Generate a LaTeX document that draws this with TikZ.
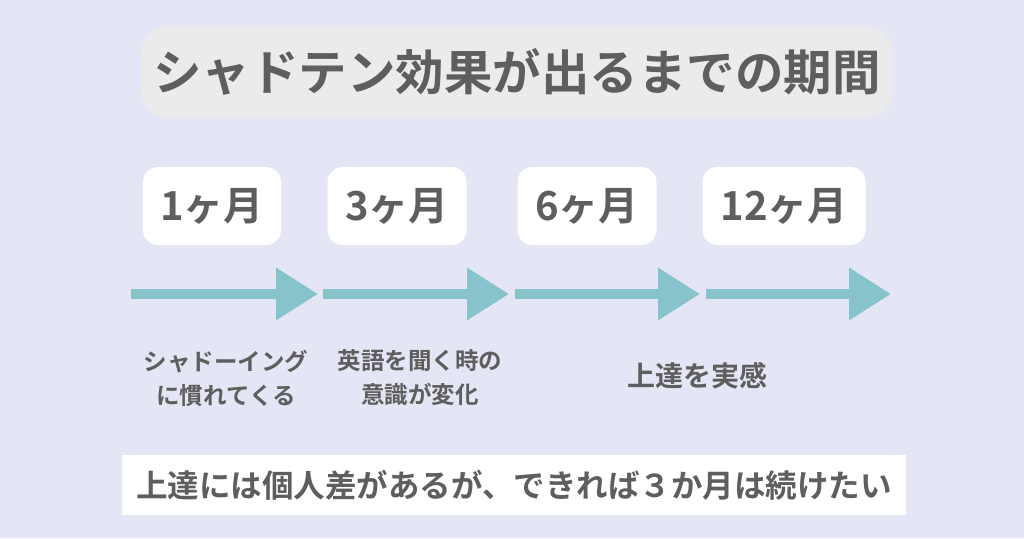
\documentclass[tikz,border=0pt]{standalone}
\usepackage{fontspec}
\setmainfont{Noto Sans CJK JP}[BoldFont={Noto Sans CJK JP Bold}]
\usetikzlibrary{arrows.meta}

\begin{document}
\begin{tikzpicture}[x=1pt,y=-1pt,
  month/.style={fill=white, rounded corners=15pt, minimum height=78pt,
    font=\fontsize{40}{40}\selectfont\bfseries, text=textgray},
  note/.style={align=center, font=\fontsize{23.5}{34}\selectfont\bfseries, text=textgray},
  flow/.style={draw=teal, line width=10pt, -{Triangle[width=50pt,length=42pt]}}]
\definecolor{bg}{HTML}{E4E6F5}
\definecolor{titlegray}{HTML}{EBEBEB}
\definecolor{textgray}{HTML}{5E5E5E}
\definecolor{teal}{HTML}{86C3CB}

\fill[bg] (0,0) rectangle (1024,538);
\useasboundingbox (0,0) rectangle (1024,538);

% title
\node[fill=titlegray, rounded corners=25pt, minimum width=752pt, minimum height=90pt,
  font=\fontsize{48.5}{48.5}\selectfont\bfseries, text=textgray] (title) at (517,72) {シャドテン効果が出るまでの期間};

% months
\node[month, minimum width=138pt] (m1) at (212,206) {1ヶ月};
\node[month, minimum width=139pt] (m3) at (397,206) {3ヶ月};
\node[month, minimum width=139pt] (m6) at (587,206) {6ヶ月};
\node[month, minimum width=163pt] (m12) at (784,206) {12ヶ月};

% arrows
\coordinate (a0) at (131,294);
\coordinate (a1) at (318,294);
\coordinate (b0) at (323,294);
\coordinate (b1) at (509,294);
\coordinate (c0) at (515,294);
\coordinate (c1) at (700,294);
\coordinate (d0) at (706,294);
\coordinate (d1) at (891,294);
\draw[flow] (a0) -- (a1);
\draw[flow] (b0) -- (b1);
\draw[flow] (c0) -- (c1);
\draw[flow] (d0) -- (d1);

% notes
\node[note] (n1) at (226,378) {シャドーイング\\に慣れてくる};
\node[note] (n2) at (420,378) {英語を聞く時の\\意識が変化};
\node[note, font=\fontsize{28}{28}\selectfont\bfseries] (n3) at (697,376) {上達を実感};

% bottom
\node[fill=white, minimum width=784pt, minimum height=60pt,
  font=\fontsize{31.5}{31.5}\selectfont\bfseries, text=textgray] (tip) at (514,485) {上達には個人差があるが、できれば３か月は続けたい};
\end{tikzpicture}
\end{document}
